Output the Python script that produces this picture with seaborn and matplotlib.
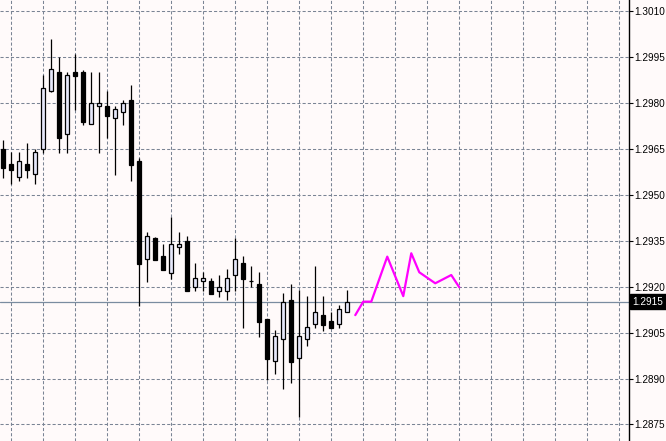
import numpy as np
import pandas as pd
import matplotlib
matplotlib.use("Agg")
import matplotlib.pyplot as plt
import seaborn as sns

# Bougies (OHLC)
opens = [1.29649, 1.29599, 1.29557, 1.29599, 1.29567, 1.29648, 1.29838, 1.29900, 1.29697, 1.29900,
         1.29900, 1.29730, 1.29789, 1.29789, 1.29750, 1.29769, 1.29808, 1.29610, 1.29289, 1.29358,
         1.29299, 1.29245, 1.29328, 1.29349, 1.29198, 1.29217, 1.29217, 1.29186, 1.29186, 1.29237,
         1.29276, 1.29217, 1.29208, 1.29096, 1.28956, 1.29029, 1.29158, 1.28966, 1.29028, 1.29077,
         1.29106, 1.29087, 1.29077, 1.29116]
closes = [1.29588, 1.29580, 1.29609, 1.29580, 1.29639, 1.29848, 1.29910, 1.29686, 1.29890, 1.29889,
          1.29738, 1.29799, 1.29799, 1.29758, 1.29779, 1.29799, 1.29598, 1.29275, 1.29367, 1.29288,
          1.29255, 1.29338, 1.29338, 1.29186, 1.29228, 1.29228, 1.29177, 1.29198, 1.29228, 1.29289,
          1.29226, 1.29217, 1.29085, 1.28964, 1.29038, 1.29149, 1.28955, 1.29038, 1.29067, 1.29116,
          1.29075, 1.29066, 1.29126, 1.29149]
highs = [1.29679, 1.29640, 1.29640, 1.29669, 1.29649, 1.29891, 1.30009, 1.29950, 1.29900, 1.29960,
         1.29907, 1.29900, 1.29900, 1.29840, 1.29789, 1.29808, 1.29858, 1.29619, 1.29378, 1.29362,
         1.29338, 1.29428, 1.29378, 1.29367, 1.29276, 1.29248, 1.29228, 1.29237, 1.29257, 1.29358,
         1.29299, 1.29267, 1.29247, 1.29096, 1.29057, 1.29180, 1.29208, 1.29189, 1.29169, 1.29267,
         1.29169, 1.29116, 1.29139, 1.29189]
lows = [1.29556, 1.29536, 1.29546, 1.29556, 1.29536, 1.29637, 1.29835, 1.29637, 1.29637, 1.29777,
        1.29728, 1.29730, 1.29637, 1.29685, 1.29565, 1.29729, 1.29546, 1.29137, 1.29215, 1.29288,
        1.29254, 1.29226, 1.29307, 1.29186, 1.29186, 1.29186, 1.29177, 1.29167, 1.29157, 1.29186,
        1.29066, 1.29198, 1.29036, 1.28895, 1.28915, 1.28866, 1.28886, 1.28775, 1.29007, 1.29066,
        1.29056, 1.29066, 1.29066, 1.29116]

# Ligne de prévision (magenta)
forecast_x = [44, 45, 46, 48, 50, 51, 52, 54, 56, 57]
forecast_y = [1.29107, 1.29151, 1.29151, 1.29298, 1.29169, 1.29309, 1.29247, 1.29211, 1.29238, 1.29198]

price_ticks = [1.2875, 1.2890, 1.2905, 1.2920, 1.2935, 1.2950, 1.2965, 1.2980, 1.2995, 1.3010]
current_price = 1.2915

bg = "#FFFAFA"
grid_col = "#7A8494"

sns.set_style("ticks", rc={"axes.facecolor": bg, "figure.facecolor": bg})
plt.rcParams["font.family"] = ["Liberation Sans", "DejaVu Sans"]

df = pd.DataFrame({"open": opens, "high": highs, "low": lows, "close": closes})
df["idx"] = np.arange(len(df))
fdf = pd.DataFrame({"x": forecast_x, "y": forecast_y})

fig = plt.figure(figsize=(6.66, 4.41), dpi=100)
ax = fig.add_axes([0, 0, 628.7 / 666, 1])

# Grille
for p in price_ticks:
    ax.axhline(p, color=grid_col, lw=0.75, ls=(0, (3, 2)), zorder=0)
for gx in range(1, 78, 4):
    ax.axvline(gx, color=grid_col, lw=0.75, ls=(0, (3, 2)), zorder=0)

# Ligne du prix actuel
ax.axhline(current_price, color="#7A8CA0", lw=0.9, zorder=1)

# Mèches et corps
ax.vlines(df["idx"], df["low"], df["high"], color="black", lw=0.9, zorder=2)
bull = df["close"] >= df["open"]
body_lo = np.minimum(df["open"], df["close"])
body_h = (df["close"] - df["open"]).abs()
ax.bar(df["idx"][bull], body_h[bull], bottom=body_lo[bull], width=0.55,
       color="#E6E8FA", edgecolor="black", linewidth=0.9, zorder=3)
ax.bar(df["idx"][~bull], body_h[~bull], bottom=body_lo[~bull], width=0.55,
       color="black", edgecolor="black", linewidth=0.9, zorder=3)

# Prévision
sns.lineplot(data=fdf, x="x", y="y", color="#FF00FF", lw=1.6, ax=ax, zorder=4)

ax.set_xlim(-0.41, 78.18)
ax.set_ylim(1.28696, 1.30136)
ax.set_xticks([])
ax.set_yticks(price_ticks)
ax.set_yticklabels([f"{p:.4f}" for p in price_ticks])
ax.yaxis.tick_right()
ax.tick_params(axis="y", length=3, width=0.8, pad=1.2, labelsize=7.2, colors="black")
ax.set_xlabel("")
ax.set_ylabel("")
for s in ["top", "bottom", "left"]:
    ax.spines[s].set_visible(False)
ax.spines["right"].set_color("black")
ax.spines["right"].set_linewidth(1.0)

ax.annotate(f"{current_price:.4f}", xy=(1, current_price), xycoords=("axes fraction", "data"),
            xytext=(2.6, 0), textcoords="offset points", va="center", ha="left",
            fontsize=7.2, color="white",
            bbox=dict(boxstyle="square,pad=0.25", fc="black", ec="black"))

plt.savefig("out.png", dpi=100, facecolor=bg)
